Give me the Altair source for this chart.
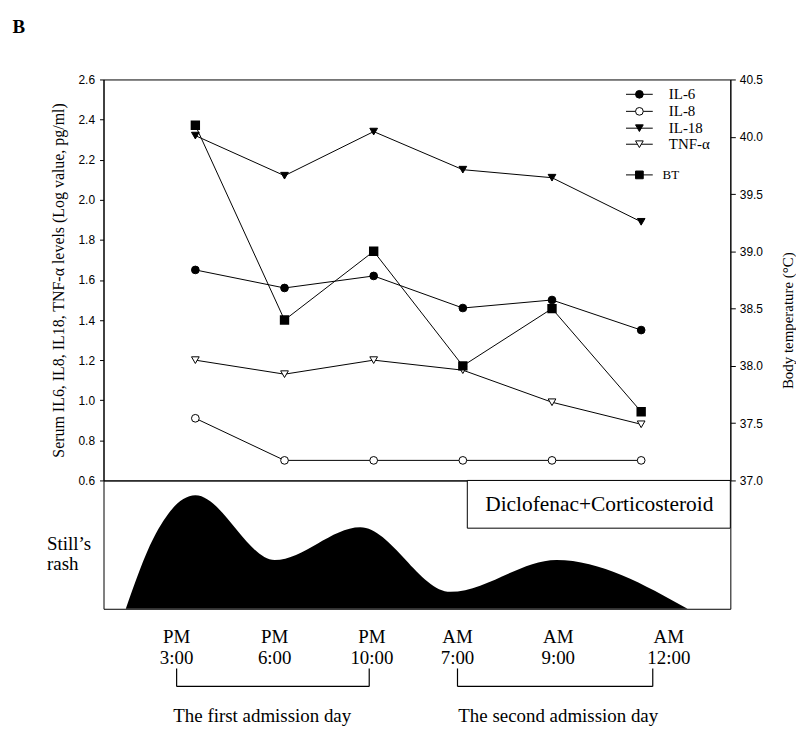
import altair as alt
import pandas as pd

# ---------------- data ----------------
t_idx = [0, 1, 2, 3, 4, 5]
il6 = [1.65, 1.56, 1.62, 1.46, 1.50, 1.35]
il8 = [0.91, 0.70, 0.70, 0.70, 0.70, 0.70]
il18 = [2.32, 2.12, 2.34, 2.15, 2.11, 1.89]
tnf = [1.20, 1.13, 1.20, 1.15, 0.99, 0.88]
bt = [40.1, 38.4, 39.0, 38.0, 38.5, 37.6]

series_names = ["IL-6", "IL-8", "IL-18", "TNF-α"]
series_values = [il6, il8, il18, tnf]
series_shapes = ["circle", "circle", "triangle-down", "triangle-down"]
series_fill = ["black", "white", "black", "white"]

ampm_labels = ["PM", "PM", "PM", "AM", "AM", "AM"]
time_labels = ["3:00", "6:00", "10:00", "7:00", "9:00", "12:00"]
label_x = [-0.21, 0.89, 1.98, 2.94, 4.07, 5.31]

day_labels = ["The first admission day", "The second admission day"]
day_label_x = [0.75, 4.07]
day_start = [-0.21, 2.94]
day_end = [1.95, 5.13]

# rash intensity (relative height) along time axis
rash_x = [-0.78, -0.47, 0.0, 0.89, 1.85, 2.86, 4.05, 5.52]
rash_h = [0.0, 0.55, 0.884, 0.38, 0.636, 0.132, 0.38, 0.0]

left_ticks = [0.6, 0.8, 1.0, 1.2, 1.4, 1.6, 1.8, 2.0, 2.2, 2.4, 2.6]
right_ticks = [37.0, 37.5, 38.0, 38.5, 39.0, 39.5, 40.0, 40.5]

# ---------------- scales / axes ----------------
SERIF = "Liberation Serif"
SANS = "Liberation Sans"
W, H_TOP, H_BOT = 630, 403, 129

xs = alt.Scale(domain=[-1.03, 6.0], nice=False, zero=False)
ysl = alt.Scale(domain=[0.6, 2.6], nice=False, zero=False)
ysr = alt.Scale(domain=[37.0, 40.5], nice=False, zero=False)
ysb = alt.Scale(domain=[0, 1], nice=False, zero=False)

left_axis = alt.Axis(
    title="Serum IL6, IL8, IL18, TNF-α levels (Log value, pg/ml)",
    values=left_ticks, format=".1f", grid=False,
    labelFont=SANS, labelFontSize=12, labelColor="black", labelPadding=5,
    titleFont=SERIF, titleFontSize=16, titleFontWeight="normal", titleColor="black",
    titlePadding=12, domainColor="black", tickColor="black", tickSize=4,
)
right_axis = alt.Axis(
    title="Body temperature (°C)", orient="right",
    values=right_ticks, format=".1f", grid=False,
    labelFont=SANS, labelFontSize=12, labelColor="black", labelPadding=4,
    titleFont=SERIF, titleFontSize=15, titleFontWeight="normal", titleColor="black",
    titleAngle=270, titleX=57, titleY=242, titleBaseline="middle",
    domainColor="black", tickColor="black", tickSize=5,
)

def X(field):
    return alt.X(field, type="quantitative", scale=xs, axis=None)

# ---------------- top panel ----------------
left_layers = []
for name, vals, shp, fl in zip(series_names, series_values, series_shapes, series_fill):
    d = pd.DataFrame({"t": t_idx, "v": vals})
    base = alt.Chart(d)
    left_layers.append(base.mark_line(color="black", strokeWidth=1).encode(
        x=X("t"), y=alt.Y("v:Q", scale=ysl, axis=left_axis)))
    left_layers.append(base.mark_point(shape=shp, filled=True, fill=fl, stroke="black",
                                       strokeWidth=1, size=60, opacity=1).encode(
        x=X("t"), y=alt.Y("v:Q", scale=ysl, axis=left_axis)))

# legend (manual, in data coordinates)
leg = pd.DataFrame({
    "name": series_names + ["BT"],
    "y": [2.526, 2.441, 2.357, 2.277, 2.124],
    "x0": [4.83] * 5, "x1": [5.13] * 5, "xm": [4.98] * 5,
    "xt": [5.31, 5.31, 5.31, 5.31, 5.24],
    "shape": series_shapes + ["square"],
    "fill": series_fill + ["black"],
    "fs": [15, 15, 15, 15, 13],
})
left_layers.append(alt.Chart(leg).mark_rule(color="black", strokeWidth=1).encode(
    x=X("x0"), x2="x1", y=alt.Y("y:Q", scale=ysl, axis=left_axis)))
for i in range(len(leg)):
    row = leg.iloc[[i]]
    left_layers.append(alt.Chart(row).mark_point(
        shape=row["shape"].iloc[0], filled=True, fill=row["fill"].iloc[0], stroke="black",
        strokeWidth=1, size=60, opacity=1).encode(
        x=X("xm"), y=alt.Y("y:Q", scale=ysl, axis=left_axis)))
    left_layers.append(alt.Chart(row).mark_text(
        align="left", baseline="middle", font=SERIF, fontSize=float(row["fs"].iloc[0]),
        color="black").encode(
        x=X("xt"), y=alt.Y("y:Q", scale=ysl, axis=left_axis), text="name:N"))

# panel letter
bdf = pd.DataFrame({"x": [-2.05], "y": [2.86], "s": ["B"]})
left_layers.append(alt.Chart(bdf).mark_text(
    align="left", baseline="middle", font=SERIF, fontSize=19, fontWeight="bold",
    color="black").encode(x=X("x"), y=alt.Y("y:Q", scale=ysl, axis=left_axis), text="s:N"))

left_group = alt.layer(*left_layers)

btdf = pd.DataFrame({"t": t_idx, "bt": bt})
right_group = alt.layer(
    alt.Chart(btdf).mark_line(color="black", strokeWidth=1).encode(
        x=X("t"), y=alt.Y("bt:Q", scale=ysr, axis=right_axis)),
    alt.Chart(btdf).mark_point(shape="square", filled=True, fill="black", stroke="black",
                               size=55, opacity=1).encode(
        x=X("t"), y=alt.Y("bt:Q", scale=ysr, axis=right_axis)),
)

top = alt.layer(left_group, right_group).resolve_scale(y="independent").properties(
    width=W, height=H_TOP)

# ---------------- bottom panel ----------------
rash = pd.DataFrame({"x": rash_x, "h": rash_h})
area = alt.Chart(rash).mark_area(color="black", interpolate="monotone", opacity=1).encode(
    x=X("x"), y=alt.Y("h:Q", scale=ysb, axis=None))

box = alt.Chart(pd.DataFrame({"x0": [3.05], "x1": [6.0], "y0": [0.628], "y1": [1.0]})).mark_rect(
    fill="white", stroke="black", strokeWidth=1).encode(
    x=X("x0"), x2="x1", y=alt.Y("y0:Q", scale=ysb, axis=None), y2="y1")
box_txt = alt.Chart(pd.DataFrame({"x": [4.53], "y": [0.81], "s": ["Diclofenac+Corticosteroid"]})).mark_text(
    font=SERIF, fontSize=21.5, color="black", baseline="middle").encode(
    x=X("x"), y=alt.Y("y:Q", scale=ysb, axis=None), text="s:N")

still = alt.Chart(pd.DataFrame({"x": [-1.663, -1.663], "y": [0.505, 0.345], "s": ["Still’s", "rash"]})).mark_text(
    font=SERIF, fontSize=19, color="black", align="left", baseline="middle").encode(
    x=X("x"), y=alt.Y("y:Q", scale=ysb, axis=None), text="s:N")

lab = pd.DataFrame({"x": label_x, "ap": ampm_labels, "tm": time_labels})
ap_txt = alt.Chart(lab).mark_text(font=SERIF, fontSize=19, color="black", baseline="middle").encode(
    x=X("x"), y=alt.Y(datum=-0.222, scale=ysb, axis=None), text="ap:N")
tm_txt = alt.Chart(lab).mark_text(font=SERIF, fontSize=19, color="black", baseline="middle").encode(
    x=X("x"), y=alt.Y(datum=-0.385, scale=ysb, axis=None), text="tm:N")

brk = pd.DataFrame({"a": day_start, "b": day_end, "lx": day_label_x, "lab": day_labels})
brk_l = alt.Chart(brk).mark_rule(color="black", strokeWidth=1.2).encode(
    x=X("a"), y=alt.Y(datum=-0.465, scale=ysb, axis=None), y2=alt.Y2(datum=-0.605))
brk_r = alt.Chart(brk).mark_rule(color="black", strokeWidth=1.2).encode(
    x=X("b"), y=alt.Y(datum=-0.465, scale=ysb, axis=None), y2=alt.Y2(datum=-0.605))
brk_h = alt.Chart(brk).mark_rule(color="black", strokeWidth=1.2).encode(
    x=X("a"), x2="b", y=alt.Y(datum=-0.605, scale=ysb, axis=None))
day_txt = alt.Chart(brk).mark_text(font=SERIF, fontSize=19, color="black", baseline="middle").encode(
    x=X("lx"), y=alt.Y(datum=-0.835, scale=ysb, axis=None), text="lab:N")

bottom = alt.layer(area, box, box_txt, still, ap_txt, tm_txt, brk_l, brk_r, brk_h, day_txt).properties(
    width=W, height=H_BOT)

chart = alt.vconcat(top, bottom, spacing=0, bounds="flush").properties(
    padding={"left": 4, "top": 8, "right": 0, "bottom": 0}, background="white"
).configure_view(stroke="black", strokeWidth=1)

chart.save("out.html", embed_options={"renderer": "svg", "actions": False})
